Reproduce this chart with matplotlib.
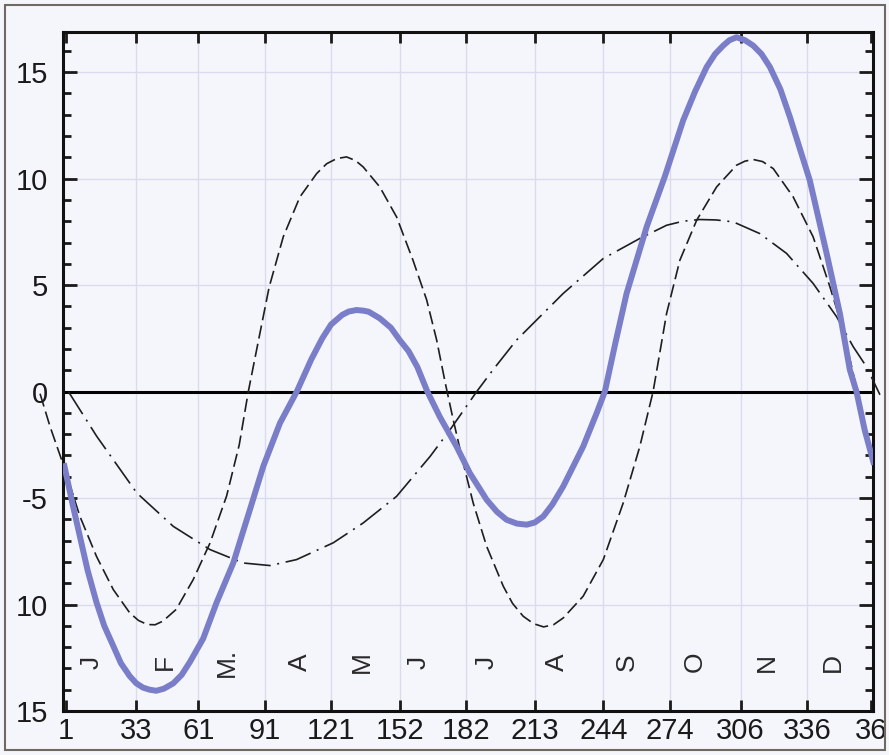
import numpy as np
import matplotlib
matplotlib.use('Agg')
import matplotlib.pyplot as plt
from matplotlib.patches import Rectangle

# equation of time (thick blue): day of year -> minutes
eot_days = [0.5, 4, 7.5, 11, 15, 18.5, 22.6, 26, 30, 33, 36, 39, 42, 45.5, 49.7, 53.5, 57.2,
            63.2, 69.3, 76.8, 84.3, 90.4, 97.9, 105.5, 112, 117, 121, 126, 129, 132.5, 135.5,
            138, 143, 148, 152, 156, 160, 164.5, 170.2, 177.7, 183.7, 191.3, 196, 200.3, 205,
            209.4, 213, 216.9, 221, 225.9, 234.9, 241, 244.7, 249.5, 254.5, 263.6, 271.8,
            280.1, 285.5, 290.7, 294.5, 298.2, 301, 304.2, 308, 311.7, 315.5, 319.3, 324,
            328.3, 337.3, 344.9, 350.9, 355.4, 358.4, 362.1, 366]
eot_vals = [-3.5, -5.2, -6.8, -8.4, -9.9, -11.0, -11.95, -12.75, -13.36, -13.7, -13.9, -14.0,
            -14.05, -13.95, -13.7, -13.3, -12.7, -11.6, -9.9, -8.05, -5.55, -3.5, -1.48, 0.0,
            1.5, 2.5, 3.15, 3.6, 3.76, 3.83, 3.8, 3.75, 3.44, 3.0, 2.42, 1.9, 1.15, 0.0, -1.2,
            -2.58, -3.83, -5.08, -5.65, -6.02, -6.2, -6.25, -6.15, -5.86, -5.3, -4.45, -2.58,
            -1.01, 0.0, 2.3, 4.6, 7.74, 10.1, 12.74, 14.1, 15.24, 15.85, 16.25, 16.5, 16.64,
            16.5, 16.25, 15.85, 15.24, 14.2, 12.9, 9.92, 6.49, 3.67, 1.02, 0.0, -1.8, -3.3]

# obliquity part (dashed)
obl_days = [-10.5, -6, 0.8, 7.5, 15, 22.6, 30, 34, 38, 41.5, 45, 51, 58.7, 66.3, 73.8, 79.5,
            83.6, 88, 93, 99.4, 106.9, 114.5, 119, 123.5, 128, 132, 135.5, 143, 150.6, 158,
            164.2, 168.7, 172.8, 176.2, 180.7, 185.2, 191.3, 198.8, 203, 207.8, 212.5, 217,
            221.5, 225.9, 234.9, 244, 253, 260.5, 266.5, 272.6, 278.6, 286.2, 295.2, 304.2,
            308, 311.7, 316, 320.8, 329.8, 338.8, 346.4, 352.4, 358.8, 364]
obl_vals = [-0.1, -1.64, -3.67, -5.86, -7.74, -9.3, -10.39, -10.75, -10.94, -10.95, -10.78,
            -10.23, -8.83, -7.11, -4.9, -2.5, 0.0, 2.3, 4.9, 7.27, 9.14, 10.24, 10.7, 10.94,
            11.02, 10.85, 10.55, 9.61, 8.2, 6.17, 4.3, 2.42, 0.3, -1.33, -3.36, -5.23, -7.27,
            -9.14, -9.95, -10.55, -10.9, -11.05, -10.95, -10.63, -9.61, -7.89, -5.23, -2.58,
            0.0, 3.67, 6.17, 8.05, 9.61, 10.63, 10.82, 10.9, 10.8, 10.47, 9.14, 7.27, 4.92,
            2.89, 0.0, -2.4]

# eccentricity part (dash-dot)
ecc_days = [2.3, 15.1, 33.2, 49.7, 66.3, 81.3, 93.4, 105.4, 122, 135.5, 150.6, 165.7, 174.7,
            186.8, 194, 204.8, 225.9, 244, 260.5, 272.6, 280, 287.6, 295, 302.7, 314.7, 326.8,
            338.8, 349.4, 356.9, 362.9, 369]
ecc_vals = [0.0, -2.1, -4.76, -6.33, -7.42, -8.05, -8.17, -7.89, -7.1, -6.17, -4.92, -3.05,
            -1.8, 0.0, 1.0, 2.42, 4.61, 6.25, 7.19, 7.81, 8.0, 8.08, 8.06, 7.97, 7.42, 6.49,
            5.08, 3.52, 2.11, 1.17, -0.15]

xticks = [1, 33, 61, 91, 121, 152, 182, 213, 244, 274, 306, 336, 365]
xtick_labels = ['1', '33', '61', '91', '121', '152', '182', '213', '244', '274', '306', '336', '36']
yticks = [15, 10, 5, 0, -5, -10, -15]
ytick_labels = ['15', '10', '5', '0', '-5', '10', '15']

months = ['J', 'F', 'M.', 'A', 'M', 'J', 'J', 'A', 'S', 'O', 'N', 'D']
month_pos = [12.8, 46, 73.8, 107, 134.8, 160.4, 191.3, 222.9, 254.5, 285.4, 317.8, 347.9]

plt.rcParams['font.family'] = ['Liberation Sans', 'DejaVu Sans']

bg = '#f5f6fb'
fig = plt.figure(figsize=(8.89, 7.55), dpi=100, facecolor=bg)
ax = fig.add_axes([63.3 / 889, 1 - 711 / 755, (873.3 - 63.3) / 889, (711 - 31.7) / 755])
ax.set_facecolor(bg)

ax.set_xlim(0, 366)
ax.set_ylim(-15, 16.9)

# grid
for x in xticks[1:-1]:
    ax.axvline(x, color='#dadbef', lw=1.0, zorder=0)
for y in [15, 10, 5, -5, -10]:
    ax.axhline(y, color='#dadbef', lw=1.0, zorder=0)

ax.axhline(0, color='black', lw=2.2, zorder=2)

ax.plot(obl_days, obl_vals, color='#1e1e1e', lw=1.2, dashes=(8, 3.2), clip_on=False, zorder=3)
ax.plot(ecc_days, ecc_vals, color='#1e1e1e', lw=1.2, dashes=(16, 4, 1.2, 4), clip_on=False, zorder=3)
ax.plot(eot_days, eot_vals, color='#7a7ec8', lw=4.3, solid_joinstyle='round', zorder=4)

for m, d in zip(months, month_pos):
    ax.text(d, -12.7, m, rotation=90, ha='center', va='center', fontsize=19,
            color='#2a2a2a')

ax.set_xticks(xticks)
ax.set_xticklabels(xtick_labels)
ax.set_yticks(yticks)
ax.set_yticklabels(ytick_labels)
ax.set_yticks(np.arange(-14, 17, 1), minor=True)

ax.tick_params(axis='x', which='major', direction='in', top=True, bottom=True, length=8,
               width=2, labelsize=21, pad=4, colors='#1a1a1a')
ax.tick_params(axis='y', which='major', direction='in', left=True, right=True, length=10,
               width=2, labelsize=21, pad=11, colors='#1a1a1a')
ax.tick_params(axis='y', which='minor', direction='in', left=True, right=True, length=6, width=2,
               colors='#1a1a1a')

for s in ax.spines.values():
    s.set_linewidth(2.2)
    s.set_color('#111111')

# outer frame of the figure
fig.patches.append(Rectangle((5 / 889, 5 / 755), 880 / 889, 745 / 755, transform=fig.transFigure,
                             fill=False, edgecolor='#6e6a62', lw=1.5))

plt.savefig('out.png', dpi=100, facecolor=bg)
